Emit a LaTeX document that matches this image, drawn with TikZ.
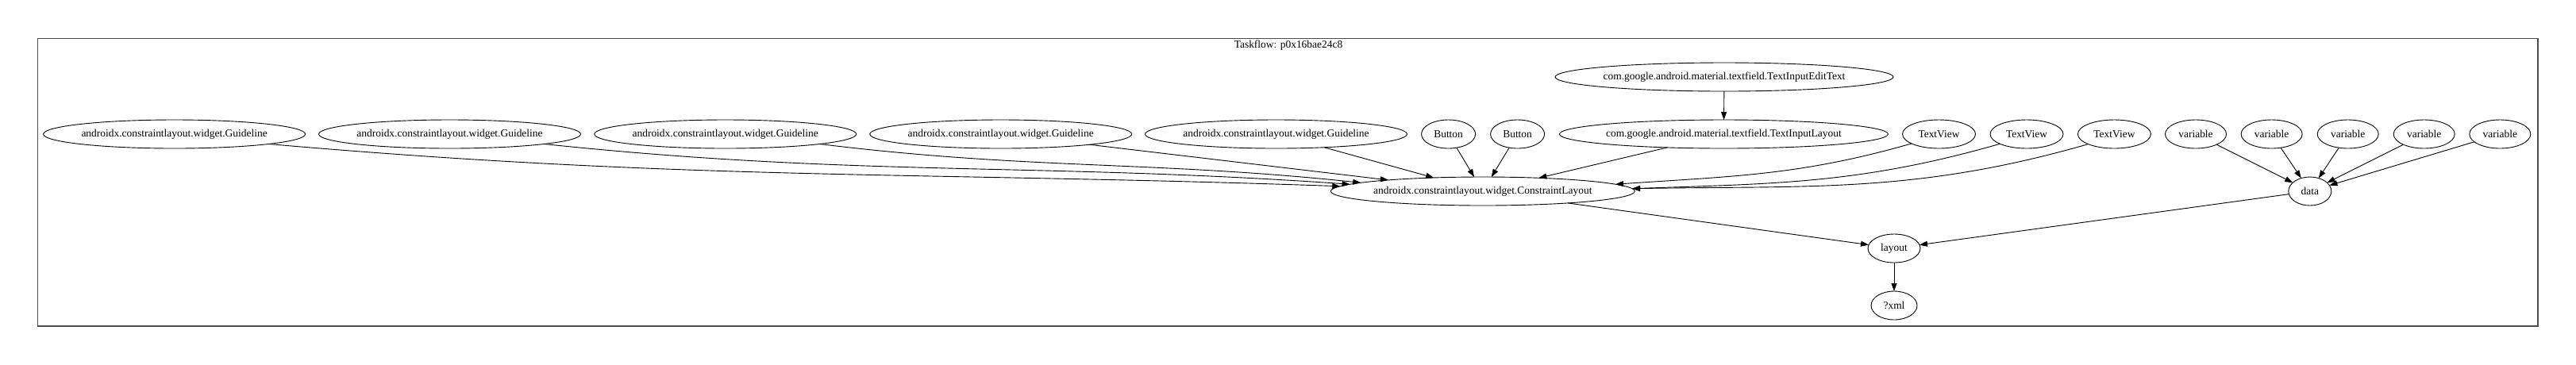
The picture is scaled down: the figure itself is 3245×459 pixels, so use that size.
\documentclass[tikz,border=0pt]{standalone}
\usepackage{fontspec}
\setmainfont{Liberation Serif}
\usetikzlibrary{shapes.geometric,arrows.meta}
\definecolor{framegray}{gray}{0.3}
% the picture is drawn at a quarter of the reference's pixel size (1px = 0.25bp)
\tikzset{
  gnode/.style={draw=black, line width=0.225bp, ellipse, inner sep=0pt, outer sep=0pt,
    minimum height=9bp, font=\fontsize{3.375}{4}\selectfont},
  edge/.style={draw=black, line width=0.225bp, -{Triangle[length=2.5bp,width=1.75bp]}},
  frame/.style={draw=framegray, line width=0.325bp},
}
\newcommand{\nb}[1]{\makebox[0pt]{#1}}
\begin{document}
\begin{tikzpicture}[x=0.25bp,y=-0.25bp]
\useasboundingbox (0,0) rectangle (3245,459);
\draw[frame] (47.5,48.3) rectangle (3197,411);
\node[font=\fontsize{3.375}{4}\selectfont, inner sep=0pt] (title) at (1623,57.5) {Taskflow: p0x16bae24c8};

% row 0
\node[gnode, minimum width=106.5bp] (tiet) at (2172,97) {\nb{com.google.android.material.textfield.TextInputEditText}};
% row 1
\node[gnode, minimum width=82.5bp] (g1) at (219.6,169) {\nb{androidx.constraintlayout.widget.Guideline}};
\node[gnode, minimum width=82.5bp] (g2) at (566.5,169) {\nb{androidx.constraintlayout.widget.Guideline}};
\node[gnode, minimum width=82.5bp] (g3) at (913.7,169) {\nb{androidx.constraintlayout.widget.Guideline}};
\node[gnode, minimum width=82.5bp] (g4) at (1260.7,169) {\nb{androidx.constraintlayout.widget.Guideline}};
\node[gnode, minimum width=82.5bp] (g5) at (1607.5,169) {\nb{androidx.constraintlayout.widget.Guideline}};
\node[gnode, minimum width=17bp] (b1) at (1824.6,169) {\nb{Button}};
\node[gnode, minimum width=17bp] (b2) at (1911.6,169) {\nb{Button}};
\node[gnode, minimum width=103.5bp] (til) at (2171.4,169) {\nb{com.google.android.material.textfield.TextInputLayout}};
\node[gnode, minimum width=23bp] (tv1) at (2442.5,169) {\nb{TextView}};
\node[gnode, minimum width=23bp] (tv2) at (2553,169) {\nb{TextView}};
\node[gnode, minimum width=23bp] (tv3) at (2663.4,169) {\nb{TextView}};
\node[gnode, minimum width=19.25bp] (v1) at (2766,169) {\nb{variable}};
\node[gnode, minimum width=19.25bp] (v2) at (2861.6,169) {\nb{variable}};
\node[gnode, minimum width=19.25bp] (v3) at (2957.7,169) {\nb{variable}};
\node[gnode, minimum width=19.25bp] (v4) at (3053.7,169) {\nb{variable}};
\node[gnode, minimum width=19.25bp] (v5) at (3149.3,169) {\nb{variable}};
% row 2
\node[gnode, minimum width=95.75bp] (cl) at (1867.8,241) {\nb{androidx.constraintlayout.widget.ConstraintLayout}};
\node[gnode, minimum width=13.5bp] (data) at (2909.8,241) {\nb{data}};
% row 3
\node[gnode, minimum width=16.5bp] (layout) at (2386,313) {\nb{layout}};
% row 4
\node[gnode, minimum width=14.5bp] (xml) at (2386,385) {\nb{?xml}};

% edges
\draw[edge] (tiet) -- (til);
\draw[edge] (g1.-6.3) to[out=-5,in=178] (cl.178.7);
\draw[edge] (g2.-6.3) to[out=-6,in=176] (cl.177.7);
\draw[edge] (g3.-6.5) to[out=-7,in=174] (cl.176.3);
\draw[edge] (g4) -- (cl);
\draw[edge] (g5) -- (cl);
\draw[edge] (b1) -- (cl);
\draw[edge] (b2) -- (cl);
\draw[edge] (til) -- (cl);
\draw[edge] (tv1.-161) to[out=196,in=4] (cl.3.2);
\draw[edge] (tv2.-160) to[out=196,in=2] (cl.1.9);
\draw[edge] (tv3.-159) to[out=196,in=1] (cl.1.3);
\draw[edge] (v1) -- (data);
\draw[edge] (v2) -- (data);
\draw[edge] (v3) -- (data);
\draw[edge] (v4) -- (data);
\draw[edge] (v5) -- (data);
\draw[edge] (cl) -- (layout);
\draw[edge] (data) -- (layout);
\draw[edge] (layout) -- (xml);
\end{tikzpicture}
\end{document}
